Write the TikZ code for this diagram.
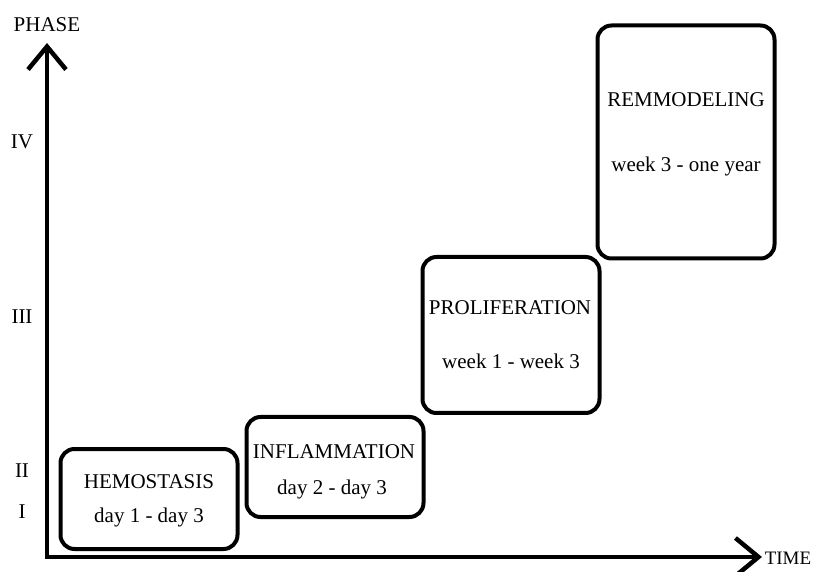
\documentclass[tikz,border=0pt]{standalone}
\usepackage{fontspec}
\setmainfont{Liberation Serif}
\usetikzlibrary{arrows.meta}
\tikzset{
  phasebox/.style={draw, line width=4pt, rounded corners=14pt, inner sep=0pt,
    minimum width=177pt},
  axis/.style={line width=4.5pt, line cap=round,
    {Straight Barb[length=23pt, width=38pt]}-{Straight Barb[length=23pt, width=38pt]}},
  every node/.style={font=\fontsize{21}{25}\selectfont}
}
\begin{document}
\begin{tikzpicture}[x=1pt, y=-1pt]
  \useasboundingbox (0,0) rectangle (823,572);
  % axes
  \coordinate (O)    at (47,557);
  \coordinate (ytop) at (47,43);
  \coordinate (xend) at (762,557);
  \draw[axis] (ytop) -- (O) -- (xend);
  \node (phase) at (47,25)  {PHASE};
  \node[inner sep=0pt, font=\fontsize{19}{23}\selectfont] (time) at (788,558) {TIME};
  % phase numbers
  \node (p4) at (22,142) {IV};
  \node (p3) at (22,317) {III};
  \node (p2) at (22,471) {II};
  \node (p1) at (22,512) {I};
  % boxes
  \node[phasebox, minimum height=100pt] (hemo) at (149,499) {};
  \node[phasebox, minimum height=100pt] (infl) at (335,467) {};
  \node[phasebox, minimum height=156pt] (prol) at (511,335) {};
  \node[phasebox, minimum height=233pt] (remo) at (686,142) {};
  % texts
  \node (hemoT) at (149,482) {HEMOSTASIS};
  \node (hemoD) at (149,517) {day 1 - day 3};
  \node (inflT) at (334,452) {INFLAMMATION};
  \node (inflD) at (332,489) {day 2 - day 3};
  \node (prolT) at (510,308) {PROLIFERATION};
  \node (prolD) at (511,361) {week 1 - week 3};
  \node (remoT) at (686,100) {REMMODELING};
  \node (remoD) at (686,166) {week 3 - one year};
\end{tikzpicture}
\end{document}
